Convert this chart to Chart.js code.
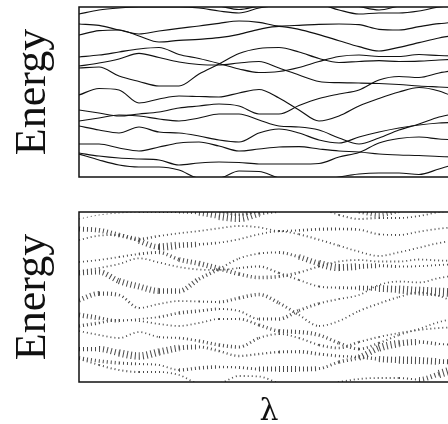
<!DOCTYPE html>
<html>
<head>
<meta charset="utf-8">
<script src="https://cdn.jsdelivr.net/npm/chart.js@4.4.0/dist/chart.umd.min.js"></script>
<style>
  html, body { margin: 0; padding: 0; background: #fff; overflow: hidden; }
  #wrap { position: relative; width: 448px; height: 424px; overflow: hidden; }
  .panel { position: absolute; left: 0; width: 464px; }
  #topPanel { top: 0; height: 190px; }
  #botPanel { top: 190px; height: 234px; }
</style>
</head>
<body>
<div id="wrap">
  <div class="panel" id="topPanel"><canvas id="bandChart"></canvas></div>
  <div class="panel" id="botPanel"><canvas id="weightChart"></canvas></div>
</div>
<script>
// lambda samples (x) shared by both panels
const lambdas = [0, 1, 2, 3, 4, 5, 6, 7, 8, 9, 10, 11, 12, 13, 14, 15, 16, 17, 18, 19];

// band energies, top to bottom
const band1  = [16.3, 16.7, 16.9, 17.0, 17.0, 17.0, 16.9, 16.6, 16.4, 16.9, 17.2, 17.4, 17.3, 16.7, 16.3, 16.4, 16.4, 16.6, 17.0, 17.2];
const band2  = [17.4, 17.5, 17.6, 17.6, 17.5, 17.4, 17.3, 17.1, 16.75, 17.1, 17.4, 17.6, 17.6, 17.4, 17.05, 16.7, 17.1, 17.4, 17.6, 17.7];
const band3  = [15.3, 15.17, 14.7, 14.3, 14.6, 14.87, 15.1, 15.37, 15.6, 15.47, 15.1, 15.17, 15.27, 15.3, 15.23, 14.77, 14.7, 15.03, 15.33, 15.5];
const band4  = [14.2, 14.63, 14.7, 14.1, 13.5, 13.67, 13.77, 13.93, 14.27, 14.77, 15.07, 14.77, 14.23, 13.63, 13.03, 12.6, 12.97, 13.43, 13.9, 14.2];
const band5  = [12.0, 12.2, 12.5, 12.8, 12.95, 12.25, 11.85, 11.35, 10.8, 10.45, 10.55, 10.95, 11.55, 12.05, 12.2, 12.05, 12.05, 12.25, 12.15, 12.1];
const band6  = [11.1, 11.4, 11.8, 12.37, 11.95, 11.5, 11.25, 11.2, 11.4, 11.55, 10.9, 10.2, 9.55, 9.43, 9.4, 9.35, 9.25, 9.1, 9.0, 8.9];
const band7  = [10.9, 11.0, 10.1, 9.55, 9.1, 9.1, 10.3, 11.3, 12.35, 12.85, 12.95, 12.5, 11.85, 11.45, 11.55, 11.63, 11.55, 11.58, 11.7, 11.8];
const band8  = [8.2, 8.85, 8.7, 7.4, 7.8, 8.1, 8.05, 8.0, 8.4, 8.75, 7.9, 6.7, 5.6, 6.1, 7.1, 7.85, 8.5, 8.95, 8.6, 7.8];
const band9  = [6.7, 6.4, 6.1, 6.3, 6.5, 6.9, 7.1, 7.3, 7.1, 6.3, 6.3, 7.15, 7.85, 8.3, 8.7, 9.7, 10.05, 9.95, 10.4, 10.7];
const band10 = [5.6, 5.9, 6.2, 6.1, 5.8, 5.6, 5.9, 6.3, 6.3, 5.7, 5.1, 5.0, 4.7, 3.9, 3.3, 3.9, 4.7, 5.3, 6.0, 6.4];
const band11 = [5.1, 4.7, 4.4, 5.0, 4.5, 4.4, 4.1, 3.7, 3.5, 4.4, 4.8, 4.4, 3.7, 3.4, 4.0, 4.5, 4.9, 5.2, 5.4, 5.5];
const band12 = [3.3, 3.3, 2.9, 2.6, 3.0, 3.4, 3.5, 3.1, 2.6, 2.8, 3.0, 3.03, 2.8, 2.6, 2.5, 2.3, 2.2, 2.15, 2.05, 2.0];
const band13 = [2.4, 2.1, 1.9, 1.8, 1.7, 1.2, 1.4, 1.5, 1.45, 1.3, 1.3, 1.3, 1.35, 2.0, 2.45, 3.4, 3.85, 4.0, 3.8, 3.7];
const band14 = [2.3, 1.7, 1.2, 1.0, 1.0, 0.7, -0.1, -0.1, 0.6, 0.55, -0.1, -0.4, -0.4, 0.0, 0.3, 0.4, 0.4, 0.25, 0.8, 1.4];

// spectral weights for the lower panel (0 = faint dot, 3 = long tick)
const weight1  = [0, 0, 0, 0, 0.3, 0.5, 1, 2.5, 3, 2.5, 1, 0, 0, 0.3, 0.5, 0.3, 0.3, 0.3, 0.3, 0.3];
const weight2  = [0, 0, 0, 0, 0, 0, 0, 0.5, 1, 0.5, 0, 0, 0, 0, 1, 1.5, 1, 0, 0, 0];
const weight3  = [1.5, 1.5, 1.5, 1, 0.3, 0.3, 0.3, 0.3, 0.3, 0.3, 0.3, 0.5, 0.8, 0.8, 0.5, 0.3, 0.3, 0.3, 0.3, 0.3];
const weight4  = [0.3, 0.3, 0.3, 1, 2.5, 2.5, 1, 0.3, 0.3, 0.3, 0.3, 0.3, 0.5, 0.3, 0.3, 0.3, 0.3, 0.3, 0.3, 0.3];
const weight5  = [0.3, 0.3, 0.3, 0.5, 1, 1, 2, 1.5, 1, 1, 1, 0.5, 0.3, 0.3, 0.3, 0.3, 0.3, 0.3, 0.3, 0.3];
const weight6  = [0.3, 0.3, 0.3, 0.3, 0.3, 0.3, 0.3, 0.3, 0.3, 0.5, 0.5, 0.3, 0.3, 0.5, 1, 2, 2.5, 3, 3, 3];
const weight7  = [1.5, 1.5, 2, 2, 2, 1.5, 1.5, 0.5, 0.3, 0.3, 0.5, 1, 2.5, 2.5, 2, 1, 0.5, 0.3, 0.3, 0.3];
const weight8  = [1.5, 1.5, 1, 0.3, 0.3, 0.3, 0.3, 0.5, 1, 1, 1, 0.5, 0.3, 0.3, 0.3, 0.5, 0.3, 0.3, 0.3, 0.3];
const weight9  = [1.5, 1.5, 0.3, 0.3, 0.3, 1, 1, 0.5, 0.3, 0.5, 1, 1, 0.5, 0.3, 0.3, 0.3, 0.3, 0.3, 0.3, 0.3];
const weight10 = [1, 0.8, 0.3, 0.3, 0.3, 0.3, 0.3, 0.3, 0.5, 0.8, 1, 1.5, 1, 0.8, 0.8, 0.5, 0.3, 0.3, 0.3, 0.3];
const weight11 = [0.3, 0.3, 0.3, 0.3, 0.3, 0.5, 0.8, 1, 1, 0.5, 0.3, 0.3, 0.5, 0.8, 0.5, 0.3, 0.3, 0.3, 0.3, 0.3];
const weight12 = [1, 1.5, 2.5, 2.5, 2.5, 2, 1, 0.5, 0.5, 0.5, 0.5, 1, 1, 0.5, 0.5, 1.5, 2.5, 2.5, 2, 1];
const weight13 = [1, 1, 1, 0.5, 0.3, 0.3, 1.5, 0.5, 0.5, 1, 2, 2, 1, 0.5, 1.5, 2.5, 2.5, 1.5, 0.5, 0.3];
const weight14 = [0.3, 0.3, 0.5, 0.3, 0.3, 0.3, 0.3, 0.3, 0.3, 0.3, 0.3, 0.3, 0.3, 0.3, 0.3, 0.3, 0.3, 0.5, 2.5, 3];

const bands = [band1, band2, band3, band4, band5, band6, band7, band8, band9, band10, band11, band12, band13, band14];
const weights = [weight1, weight2, weight3, weight4, weight5, weight6, weight7, weight8, weight9, weight10, weight11, weight12, weight13, weight14];

const serif = "'Liberation Serif', 'DejaVu Serif', serif";

// black frame round the plot area
const frame = {
  id: 'frame',
  afterDraw(chart) {
    const { ctx, chartArea: a } = chart;
    ctx.save();
    ctx.strokeStyle = '#111';
    ctx.lineWidth = 1.5;
    ctx.strokeRect(a.left, a.top, a.right - a.left, a.bottom - a.top);
    ctx.restore();
  }
};

function points(band) {
  return band.map((e, i) => ({ x: lambdas[i], y: e }));
}

function scales(xHeight, xTitle) {
  return {
    x: {
      type: 'linear', min: 0, max: 19,
      grid: { display: false }, border: { display: false }, ticks: { display: false },
      title: xTitle,
      afterFit: s => { s.height = xHeight; }
    },
    y: {
      min: 0, max: 17,
      grid: { display: false }, border: { display: false }, ticks: { display: false },
      title: {
        display: true, text: 'Energy', color: '#111',
        font: { family: serif, size: 44, lineHeight: 1 },
        padding: { top: 11, bottom: 0 }
      },
      afterFit: s => { s.width = 79; }
    }
  };
}

const common = {
  responsive: true,
  maintainAspectRatio: false,
  animation: false,
  events: [],
  plugins: { legend: { display: false }, tooltip: { enabled: false } }
};

// upper panel: plain band lines
new Chart(document.getElementById('bandChart'), {
  type: 'line',
  data: {
    datasets: bands.map(b => ({
      data: points(b),
      borderColor: '#111',
      borderWidth: 1.2,
      pointRadius: 0,
      cubicInterpolationMode: 'monotone',
      clip: 0
    }))
  },
  options: {
    ...common,
    layout: { padding: { top: 7, right: 5, left: 0, bottom: 0 } },
    scales: scales(13, { display: false })
  },
  plugins: [frame]
});

// lower panel: same bands, dotted, tick length follows the weight
new Chart(document.getElementById('weightChart'), {
  type: 'line',
  data: {
    datasets: bands.map((b, k) => ({
      data: points(b),
      borderColor: '#4a4a4a',
      borderWidth: 1.5,
      borderDash: [1, 3],
      pointRadius: 0,
      cubicInterpolationMode: 'monotone',
      clip: 0,
      segment: {
        borderWidth: c => {
          const w = (weights[k][c.p0DataIndex] + weights[k][c.p1DataIndex]) / 2;
          return 1 + 2.6 * w;
        }
      }
    }))
  },
  options: {
    ...common,
    layout: { padding: { top: 22, right: 5, left: 0, bottom: 0 } },
    scales: scales(42, {
      display: true, text: 'λ', color: '#111',
      font: { family: "'DejaVu Serif', serif", size: 30, lineHeight: 0.8 },
      padding: { top: 0, bottom: 0 }
    })
  },
  plugins: [frame]
});
</script>
</body>
</html>
